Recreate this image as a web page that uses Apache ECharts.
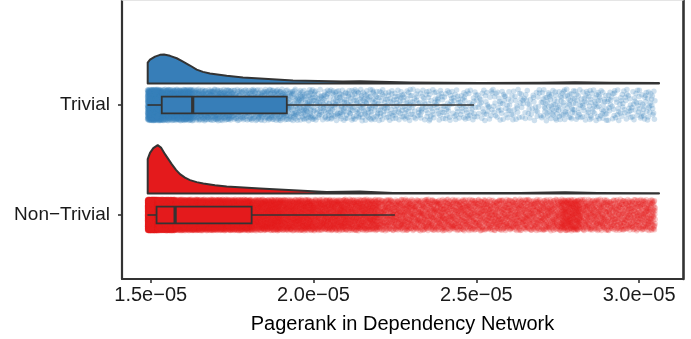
<!DOCTYPE html>
<html>
<head>
<meta charset="utf-8">
<script src="https://cdn.jsdelivr.net/npm/echarts@6/dist/echarts.min.js"></script>
<style>
  html, body { margin: 0; padding: 0; background: #fff; }
  #chart { width: 691px; height: 339px; }
</style>
</head>
<body>
<div id="chart"></div>
<script>
// all x values are in units of 1e-05
const categories = ['Non\u2212Trivial', 'Trivial'];
const xTicks = [1.5, 2.0, 2.5, 3.0];
const groupColors = ['#E41A1C', '#377EB8'];

// box: [lower whisker, q1, median, q3, upper whisker]
const nonTrivialBox = [1.49, 1.518, 1.575, 1.81, 2.25];
const trivialBox = [1.49, 1.534, 1.629, 1.918, 2.493];

// half-violin outline: x and height above its baseline (y-axis units)
const nonTrivialDensX = [1.4908, 1.4908, 1.4979, 1.508, 1.5215, 1.5316, 1.5439, 1.5645, 1.5777, 1.59, 1.6053, 1.6207, 1.6413, 1.6615, 1.6975, 1.7334, 1.8357, 1.938, 2.0405, 2.1428, 2.2442, 2.4192, 2.6342, 2.7724, 2.8727, 3.0611, 3.0611];
const nonTrivialDensH = [0, 0.313, 0.37, 0.413, 0.44, 0.418, 0.358, 0.267, 0.215, 0.176, 0.145, 0.122, 0.104, 0.091, 0.076, 0.064, 0.045, 0.031, 0.015, 0.018, 0.006, 0.005, 0.005, 0.011, 0.005, 0.003, 0];
const trivialDensX = [1.4908, 1.4908, 1.4979, 1.5132, 1.5286, 1.5408, 1.5593, 1.5799, 1.5992, 1.6207, 1.6413, 1.6606, 1.6821, 1.7334, 1.7835, 1.8357, 1.937, 2.0906, 2.1428, 2.2964, 2.5113, 2.6956, 2.803, 2.9106, 3.0611, 3.0611];
const trivialDensH = [0, 0.191, 0.218, 0.245, 0.261, 0.264, 0.252, 0.23, 0.2, 0.164, 0.127, 0.106, 0.091, 0.07, 0.055, 0.045, 0.027, 0.018, 0.021, 0.009, 0.005, 0.007, 0.012, 0.007, 0.005, 0];

// jittered raw points, read as counts per x bin
const nonTrivialBinEdges = [1.49, 1.52, 1.575, 1.65, 1.73, 1.81, 1.9, 2.0, 2.1, 2.2, 2.3, 2.4, 2.5, 2.6, 2.7, 2.76, 2.82, 2.9, 3.0, 3.05];
const nonTrivialBinCounts = [2000, 2000, 1000, 850, 750, 600, 550, 480, 430, 320, 300, 290, 280, 280, 170, 260, 220, 260, 130];
const trivialBinEdges = [1.49, 1.534, 1.629, 1.75, 1.918, 2.0, 2.1, 2.2, 2.3, 2.4, 2.5, 2.6, 2.7, 2.8, 2.9, 3.0, 3.05];
const trivialBinCounts = [600, 700, 450, 400, 130, 120, 110, 90, 75, 70, 60, 55, 80, 75, 65, 35];

const violinOffset = 0.195;
const jitterHalf = 0.143;
const boxHalf = 0.077;
const ink = '#333333';

// radical inverse, used to spread points evenly inside a bin
function halton(i, base) {
  let f = 1, r = 0;
  while (i > 0) {
    f = f / base;
    r = r + f * (i % base);
    i = Math.floor(i / base);
  }
  return r;
}

function spreadPoints(edges, counts, yc) {
  const pts = [];
  let g = 0;
  for (let b = 0; b < counts.length; b++) {
    const lo = edges[b], hi = edges[b + 1];
    for (let k = 0; k < counts[b]; k++) {
      g++;
      const u = halton(g, 2);
      const w = halton(g, 3);
      pts.push([lo + (hi - lo) * u, yc + jitterHalf * (2 * w - 1)]);
    }
  }
  return pts;
}

function violinSeries(xs, hs, yc, color) {
  const base = yc + violinOffset;
  return {
    type: 'custom',
    silent: true,
    z: 2,
    data: [[xs[0], base]],
    renderItem: function (params, api) {
      const poly = xs.map((x, i) => api.coord([x, base + hs[i]]));
      return {
        type: 'polygon',
        shape: { points: poly },
        style: { fill: color, stroke: ink, lineWidth: 2, lineJoin: 'round' }
      };
    }
  };
}

function boxSeries(stats, yc, color) {
  return {
    type: 'custom',
    silent: true,
    z: 4,
    data: [[stats[2], yc]],
    renderItem: function (params, api) {
      const pMin = api.coord([stats[0], yc]);
      const pQ1 = api.coord([stats[1], yc]);
      const pMed = api.coord([stats[2], yc]);
      const pQ3 = api.coord([stats[3], yc]);
      const pMax = api.coord([stats[4], yc]);
      const top = api.coord([stats[1], yc + boxHalf])[1];
      const bot = api.coord([stats[1], yc - boxHalf])[1];
      return {
        type: 'group',
        children: [
          { type: 'line', shape: { x1: pMin[0], y1: pMin[1], x2: pQ1[0], y2: pQ1[1] }, style: { stroke: ink, lineWidth: 1.6 } },
          { type: 'line', shape: { x1: pQ3[0], y1: pQ3[1], x2: pMax[0], y2: pMax[1] }, style: { stroke: ink, lineWidth: 1.6 } },
          { type: 'rect', shape: { x: pQ1[0], y: top, width: pQ3[0] - pQ1[0], height: bot - top }, style: { fill: color, stroke: ink, lineWidth: 1.8 } },
          { type: 'line', shape: { x1: pMed[0], y1: top, x2: pMed[0], y2: bot }, style: { stroke: ink, lineWidth: 3.2 } }
        ]
      };
    }
  };
}

function pointSeries(pts, rgba) {
  return {
    type: 'scatter',
    silent: true,
    z: 3,
    large: false,
    progressive: 0,
    symbol: 'circle',
    symbolSize: 5.5,
    itemStyle: { color: rgba, borderWidth: 0 },
    data: pts
  };
}

const chart = echarts.init(document.getElementById('chart'), null, { renderer: 'canvas' });
const font = '"Liberation Sans", Arial, Helvetica, sans-serif';
const xMin = 1.41186, xMax = 3.1348;
const yMin = 0.41818, yMax = 2.95455;

chart.setOption({
  animation: false,
  backgroundColor: '#ffffff',
  grid: { left: 122, right: 8, top: 0, bottom: 60, show: false },
  xAxis: [
    {
      type: 'value',
      min: xMin,
      max: xMax,
      splitLine: { show: false },
      axisLine: { show: true, onZero: false, lineStyle: { color: ink, width: 2.2 } },
      axisTick: { show: true, length: 4, customValues: xTicks, lineStyle: { color: ink, width: 1.6 } },
      axisLabel: {
        customValues: xTicks,
        formatter: v => v.toFixed(1) + 'e\u221205',
        fontFamily: font, fontSize: 20, color: '#1a1a1a', margin: 6
      },
      name: 'Pagerank in Dependency Network',
      nameLocation: 'middle',
      nameGap: 35,
      nameTextStyle: { fontFamily: font, fontSize: 20, color: '#000' }
    },
    {
      type: 'value',
      position: 'top',
      min: xMin,
      max: xMax,
      splitLine: { show: false },
      axisLine: { show: true, onZero: false, lineStyle: { color: '#dddddd', width: 1.5 } },
      axisTick: { show: false },
      axisLabel: { show: false }
    }
  ],
  yAxis: [
    {
      type: 'value',
      min: yMin,
      max: yMax,
      splitLine: { show: false },
      axisLine: { show: true, onZero: false, lineStyle: { color: ink, width: 2.2 } },
      axisTick: { show: true, length: 4, customValues: [1, 2], lineStyle: { color: ink, width: 1.6 } },
      axisLabel: {
        customValues: [1, 2],
        formatter: v => categories[Math.round(v) - 1],
        fontFamily: font, fontSize: 19, color: '#1a1a1a', margin: 12
      }
    },
    {
      type: 'value',
      position: 'right',
      min: yMin,
      max: yMax,
      splitLine: { show: false },
      axisLine: { show: true, onZero: false, lineStyle: { color: ink, width: 2.6 } },
      axisTick: { show: false },
      axisLabel: { show: false }
    }
  ],
  series: [
    violinSeries(nonTrivialDensX, nonTrivialDensH, 1, groupColors[0]),
    violinSeries(trivialDensX, trivialDensH, 2, groupColors[1]),
    pointSeries(spreadPoints(nonTrivialBinEdges, nonTrivialBinCounts, 1), 'rgba(228,26,28,0.28)'),
    pointSeries(spreadPoints(trivialBinEdges, trivialBinCounts, 2), 'rgba(55,126,184,0.3)'),
    boxSeries(nonTrivialBox, 1, groupColors[0]),
    boxSeries(trivialBox, 2, groupColors[1])
  ]
});
</script>
</body>
</html>
